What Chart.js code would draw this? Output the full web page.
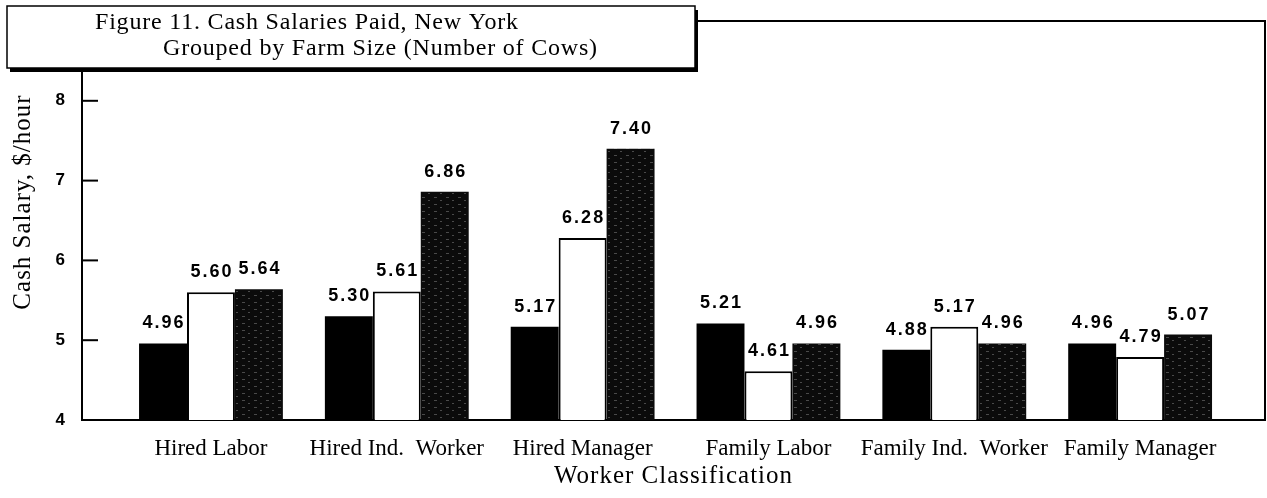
<!DOCTYPE html>
<html>
<head>
<meta charset="utf-8">
<script src="https://cdn.jsdelivr.net/npm/chart.js@4.4.1/dist/chart.umd.min.js"></script>
<style>
  html, body { margin: 0; padding: 0; background: #fff; }
  #wrap { width: 1267px; height: 498px; }
</style>
</head>
<body>
<div id="wrap"><canvas id="salaryChart" width="1267" height="498"></canvas></div>
<script>
// Worker classes (x axis)
const categories = ['Hired Labor', 'Hired Ind.  Worker', 'Hired Manager', 'Family Labor', 'Family Ind.  Worker', 'Family Manager'];

// Cash salary $/hour, three farm-size groups per class
const smallFarms  = [4.96, 5.30, 5.17, 5.21, 4.88, 4.96];
const mediumFarms = [5.60, 5.61, 6.28, 4.61, 5.17, 4.79];
const largeFarms  = [5.64, 6.86, 7.40, 4.96, 4.96, 5.07];

const yTicks = [4, 5, 6, 7, 8];

const titleLines = ['Figure 11. Cash Salaries Paid, New York', 'Grouped by Farm Size (Number of Cows)'];
const xTitle = 'Worker Classification';
const yTitle = 'Cash Salary, $/hour';

const serif = '"Liberation Serif", "Times New Roman", serif';
const sans = '"Liberation Sans", Arial, sans-serif';

// dark bars with faint light specks, like the printed screen
const makePattern = () => {
    const c = document.createElement('canvas');
    c.width = 12;
    c.height = 7;
    const g = c.getContext('2d');
    g.fillStyle = '#0b0b0b';
    g.fillRect(0, 0, 12, 7);
    g.fillStyle = 'rgba(170,170,170,0.4)';
    g.fillRect(2, 1, 3, 1);
    g.fillRect(8, 4, 2, 1);
    return g.createPattern(c, 'repeat');
};

const toPoints = arr => arr.map((v, i) => ({ x: i, y: v }));

// value labels on top of bars
const valueLabels = {
    id: 'valueLabels',
    afterDatasetsDraw(chart) {
        const ctx = chart.ctx;
        ctx.save();
        ctx.font = 'bold 18px ' + sans;
        ctx.letterSpacing = '2px';
        ctx.fillStyle = '#000';
        ctx.textAlign = 'center';
        ctx.textBaseline = 'bottom';
        chart.data.datasets.forEach((ds, di) => {
            chart.getDatasetMeta(di).data.forEach((bar, i) => {
                ctx.fillText(ds.data[i].y.toFixed(2), bar.x + 1, bar.y - 11);
            });
        });
        ctx.restore();
    }
};

// frame, inward ticks, axis titles and the title box
const frame = {
    id: 'frame',
    afterDraw(chart) {
        const ctx = chart.ctx;
        const a = chart.chartArea;
        const y = chart.scales.y;
        ctx.save();
        ctx.strokeStyle = '#000';
        ctx.lineWidth = 2;
        ctx.beginPath();
        ctx.moveTo(a.left, a.top);
        ctx.lineTo(a.right, a.top);
        ctx.lineTo(a.right, a.bottom);
        ctx.stroke();

        yTicks.forEach(t => {
            const py = y.getPixelForValue(t);
            ctx.beginPath();
            ctx.moveTo(a.left, py);
            ctx.lineTo(a.left + 16, py);
            ctx.stroke();
        });

        ctx.fillStyle = '#000';
        ctx.textAlign = 'center';
        ctx.textBaseline = 'middle';
        ctx.font = '25px ' + serif;
        ctx.letterSpacing = '1px';
        ctx.fillText(xTitle, (a.left + a.right) / 2, 476);

        ctx.save();
        ctx.translate(23, 202);
        ctx.rotate(-Math.PI / 2);
        ctx.fillText(yTitle, 0, 0);
        ctx.restore();

        // title box with drop shadow
        const bx = 7, by = 6, bw = 688, bh = 62;
        ctx.fillStyle = '#000';
        ctx.fillRect(bx + 3, by + 4, bw, bh);
        ctx.fillStyle = '#fff';
        ctx.fillRect(bx, by, bw, bh);
        ctx.lineWidth = 1.5;
        ctx.strokeRect(bx, by, bw, bh);
        ctx.fillStyle = '#000';
        ctx.font = '24px ' + serif;
        ctx.letterSpacing = '0.8px';
        ctx.textAlign = 'left';
        ctx.fillText(titleLines[0], 95, 23);
        ctx.fillText(titleLines[1], 163, 49);
        ctx.restore();
    }
};

const pattern = makePattern();

new Chart(document.getElementById('salaryChart'), {
    type: 'bar',
    data: {
        datasets: [
            { label: 'Small', data: toPoints(smallFarms), backgroundColor: '#000', borderColor: '#000', borderWidth: 0 },
            { label: 'Medium', data: toPoints(mediumFarms), backgroundColor: '#fff', borderColor: '#000', borderWidth: 2 },
            { label: 'Large', data: toPoints(largeFarms), backgroundColor: pattern, borderColor: '#000', borderWidth: 0 }
        ]
    },
    options: {
        responsive: false,
        animation: false,
        layout: { padding: { top: 21, right: 2, left: 0, bottom: 0 } },
        plugins: {
            legend: { display: false },
            tooltip: { enabled: false }
        },
        datasets: {
            bar: { categoryPercentage: 0.774, barPercentage: 1.0, grouped: true }
        },
        scales: {
            x: {
                type: 'linear',
                offset: false,
                min: -0.694,
                max: 5.672,
                afterBuildTicks: scale => {
                    scale.ticks = categories.map((c, i) => ({ value: i }));
                },
                afterFit: scale => {
                    scale.height = 78;
                    scale.paddingLeft = 0;
                    scale.paddingRight = 0;
                },
                grid: { display: false, drawTicks: false, offset: false },
                border: { display: true, color: '#000', width: 2 },
                ticks: {
                    autoSkip: false,
                    maxRotation: 0,
                    padding: 15,
                    color: '#000',
                    font: { family: serif, size: 23 },
                    callback: value => categories[value]
                }
            },
            y: {
                min: 4,
                max: 9,
                afterFit: scale => {
                    scale.width = 82;
                    scale.paddingTop = 0;
                    scale.paddingBottom = 0;
                },
                afterBuildTicks: scale => {
                    scale.ticks = yTicks.map(v => ({ value: v }));
                },
                grid: { display: false, drawTicks: false },
                border: { display: true, color: '#000', width: 2 },
                ticks: {
                    padding: 17,
                    color: '#000',
                    font: { family: sans, size: 17, weight: 'bold' }
                }
            }
        }
    },
    plugins: [valueLabels, frame]
});
</script>
</body>
</html>
